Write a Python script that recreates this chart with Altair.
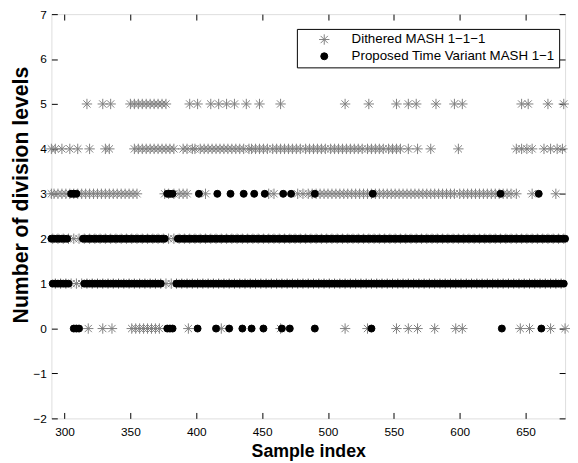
import altair as alt
import pandas as pd

# ---- data ----
SERIES = ["Dithered MASH 1\u22121\u22121", "Proposed Time Variant MASH 1\u22121"]

x_ticks = [300, 350, 400, 450, 500, 550, 600, 650]
y_ticks = [-2, -1, 0, 1, 2, 3, 4, 5, 6, 7]

# Dithered MASH 1-1-1 (grey asterisks): sample indices per level
gray_l5 = [317, 329, 335, 350, 353, 356, 359, 362, 365, 368, 371, 374, 377, 395, 401,
           411, 417, 423, 429, 438, 448, 464, 513, 531, 552, 561, 567, 582, 596, 602,
           647, 652, 667, 679]
gray_l4 = [290, 293, 298, 304, 310, 319, 331, 334, 353, 356, 359, 362, 365, 368, 371,
           374, 377, 380, 383, 390, 393, 397, 399, 403, 406, 409, 412, 415, 418, 421,
           424, 427, 430, 433, 436, 440, 442, 445, 448, 451, 454, 458, 461, 464, 467,
           470, 473, 476, 479, 483, 486, 489, 492, 495, 498, 502, 505, 508, 511, 514,
           517, 520, 523, 526, 530, 533, 536, 539, 542, 546, 549, 552, 555, 561, 568,
           578, 599, 643, 647, 651, 655, 664, 669, 674, 678]
gray_l3 = [290, 292, 295, 298, 301, 304, 307, 310, 313, 316, 319, 322, 325, 328, 331,
           334, 337, 340, 343, 346, 349, 352, 355, 376, 379, 383, 387, 390, 393, 407,
           455, 459, 477, 481, 485, 488, 491, 494, 497, 500, 503, 506, 509, 512, 515,
           518, 521, 524, 527, 530, 533, 536, 539, 542, 545, 548, 551, 554, 557, 560,
           563, 566, 569, 572, 575, 578, 581, 584, 587, 590, 593, 596, 600, 603, 606,
           609, 612, 615, 618, 621, 624, 627, 630, 633, 636, 639, 643, 655, 673]
gray_l0 = [318, 329, 336, 351, 354, 357, 360, 363, 366, 369, 372, 394, 419, 464, 513,
           530, 552, 561, 568, 581, 597, 602, 646, 653, 669, 680]
# dense grey bands at levels 2 and 1: (first sample, last sample, spacing)
gray_l2_runs = [(291, 679, 4)]
gray_l1_runs = [(293, 679, 4)]

# Proposed Time Variant MASH 1-1 (black dots)
black_l3 = [305, 307, 309, 378, 380, 382, 402, 416, 426, 436, 444, 452, 466, 472,
            490, 534, 631, 660]
black_l0 = [307, 309, 311, 378, 380, 382, 401, 415, 425, 435, 442, 451, 465, 471,
            490, 533, 632, 662]
# continuous black bands at levels 2 and 1: (first sample, last sample, spacing)
black_l2_runs = [(290, 302, 2), (314, 376, 2), (386, 680, 2)]
black_l1_runs = [(291, 303, 2), (315, 373, 2), (385, 679, 2)]

# ---- build table ----
rows = []


def add(series, level, samples):
    for s in samples:
        rows.append({"sample": s, "level": level, "series": series})


def add_runs(series, level, runs):
    for a, b, step in runs:
        add(series, level, range(a, b + 1, step))


g, k = SERIES
add_runs(g, 2, gray_l2_runs)
add_runs(g, 1, gray_l1_runs)
add(g, 5, gray_l5)
add(g, 4, gray_l4)
add(g, 3, gray_l3)
add(g, 0, gray_l0)
add_runs(k, 2, black_l2_runs)
add_runs(k, 1, black_l1_runs)
add(k, 3, black_l3)
add(k, 0, black_l0)

df = pd.DataFrame(rows)

W, H = 521, 410
TICK = 6
FONT = "Liberation Sans"
ASTERISK = "M-1,0L1,0M0,-1L0,1M-0.7,-0.7L0.7,0.7M-0.7,0.7L0.7,-0.7"

chart = (
    alt.Chart(df)
    .mark_point(opacity=1, strokeWidth=1)
    .encode(
        x=alt.X(
            "sample:Q",
            scale=alt.Scale(domain=[290, 680], nice=False, zero=False),
            axis=alt.Axis(
                values=x_ticks, title="Sample index", domain=False, ticks=False, tickSize=0,
                grid=True, gridColor="black", gridOpacity=1, gridWidth=1,
                gridDash=[TICK, H - 2 * TICK, TICK, 3000],
                labelFont=FONT, labelFontSize=12, labelColor="black", labelPadding=8,
                titleFont=FONT, titleFontSize=18, titleFontWeight="bold",
                titleColor="black", titlePadding=6,
            ),
        ),
        y=alt.Y(
            "level:Q",
            scale=alt.Scale(domain=[-2, 7], nice=False, zero=False),
            axis=alt.Axis(
                values=y_ticks, title="Number of division levels", domain=False,
                ticks=False, tickSize=0,
                grid=True, gridColor="black", gridOpacity=1, gridWidth=1,
                gridDash=[TICK, W - 2 * TICK, TICK, 3000],
                labelFont=FONT, labelFontSize=12, labelColor="black", labelPadding=5,
                titleFont=FONT, titleFontSize=21.5, titleFontWeight="bold",
                titleColor="black", titlePadding=1, titleY=183,
            ),
        ),
        shape=alt.Shape(
            "series:N",
            scale=alt.Scale(domain=SERIES, range=[ASTERISK, "circle"]),
            legend=alt.Legend(
                title=None, orient="none", legendX=249, legendY=15,
                strokeColor="black", fillColor="white", padding=4, cornerRadius=0,
                labelFont=FONT, labelFontSize=13.5, labelColor="black", labelLimit=0,
                symbolOffset=17, labelOffset=21, rowPadding=2, symbolStrokeWidth=1,
            ),
        ),
        stroke=alt.Stroke("series:N", scale=alt.Scale(domain=SERIES, range=["#808080", "black"])),
        fill=alt.Fill("series:N", scale=alt.Scale(domain=SERIES, range=["transparent", "black"])),
        size=alt.Size("series:N", scale=alt.Scale(domain=SERIES, range=[110, 50])),
    )
).properties(
    width=W, height=H, autosize="none",
    padding={"left": 44, "top": 3, "right": 5, "bottom": 40},
).configure_view(stroke="black", strokeWidth=1).configure(background="white")

chart.save("out.html", embed_options={"renderer": "svg", "actions": False})
